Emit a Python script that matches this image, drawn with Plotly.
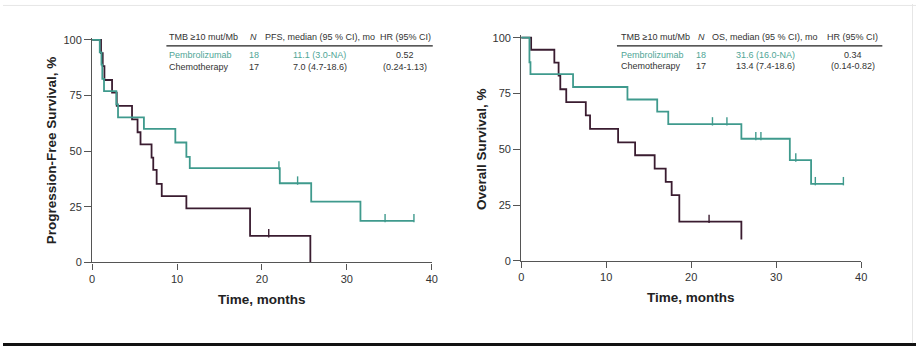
import plotly.graph_objects as go

# ---------------- data ----------------
pfs_pembro_t = [0, 0.9, 1.1, 1.2, 1.4, 2.85, 3.05, 6.1, 9.8, 11.1, 11.5, 22.1, 25.8, 31.6, 37.9]
pfs_pembro_s = [100, 94.4, 88.9, 82.5, 77.0, 71.0, 65.2, 60.0, 53.9, 47.4, 42.4, 35.6, 27.3, 18.7, 18.7]
pfs_pembro_cens = [22.0, 24.2, 34.5, 37.9]

pfs_chemo_t = [0, 1.05, 1.25, 1.45, 2.35, 2.9, 4.7, 5.35, 5.7, 7.0, 7.2, 7.6, 8.2, 11.1, 18.6, 25.7]
pfs_chemo_s = [100, 94.1, 88.2, 82.0, 76.3, 70.4, 64.3, 58.5, 53.1, 47.1, 41.6, 35.3, 29.8, 24.3, 11.9, 0]
pfs_chemo_cens = [20.8]

os_pembro_t = [0, 0.97, 1.09, 6.1, 12.5, 16.0, 17.3, 25.9, 31.6, 34.1, 37.9]
os_pembro_s = [100, 89.0, 83.7, 77.9, 72.3, 66.9, 61.3, 54.7, 45.1, 34.5, 34.5]
os_pembro_cens = [22.5, 24.2, 27.6, 28.2, 32.3, 34.6, 37.9]

os_chemo_t = [0, 1.17, 3.9, 4.4, 4.6, 5.3, 7.6, 8.1, 11.4, 13.4, 15.7, 17.0, 17.7, 18.6, 25.9]
os_chemo_s = [100, 94.6, 88.8, 83.0, 76.9, 71.1, 65.2, 59.1, 53.1, 47.3, 41.3, 35.4, 29.4, 17.6, 9.6]
os_chemo_cens = [22.1]

x_ticks = [0, 10, 20, 30, 40]
y_ticks = [0, 25, 50, 75, 100]

pfs_table = [["Pembrolizumab", "18", "11.1 (3.0-NA)", "0.52"],
             ["Chemotherapy", "17", "7.0 (4.7-18.6)", "(0.24-1.13)"]]
os_table = [["Pembrolizumab", "18", "31.6 (16.0-NA)", "0.34"],
            ["Chemotherapy", "17", "13.4 (7.4-18.6)", "(0.14-0.82)"]]
pfs_header = ["TMB \u226510 mut/Mb", "<i>N</i>", "PFS, median (95 % CI), mo", "HR (95% CI)"]
os_header = ["TMB \u226510 mut/Mb", "<i>N</i>", "OS, median (95 % CI), mo", "HR (95% CI)"]

# ---------------- style ----------------
W, H = 922, 352
TEAL = "#3f9a8d"
TEAL_TXT = "#4fa596"
DARK = "#3a1c30"
TXT = "#333333"
AX = "#555555"
FONT = "Liberation Sans, Arial, sans-serif"
TICK_OFF = 1.2  # censor tick lift (in %)
TBL_SIZE = 9


def step_val(ts, ss, c):
    v = ss[0]
    for t, s in zip(ts, ss):
        if t <= c:
            v = s
    return v


fig = go.Figure()


def add_curve(ts, ss, cens, color, xa, ya):
    fig.add_trace(go.Scatter(x=ts, y=ss, mode="lines", line=dict(shape="hv", color=color, width=1.8),
                             xaxis=xa, yaxis=ya, showlegend=False, hoverinfo="skip"))
    cy = [step_val(ts, ss, c) + TICK_OFF for c in cens]
    fig.add_trace(go.Scatter(x=cens, y=cy, mode="markers",
                             marker=dict(symbol="line-ns", size=6, line=dict(width=1.4, color=color)),
                             xaxis=xa, yaxis=ya, showlegend=False, hoverinfo="skip", cliponaxis=False))


add_curve(pfs_chemo_t, pfs_chemo_s, pfs_chemo_cens, DARK, "x", "y")
add_curve(pfs_pembro_t, pfs_pembro_s, pfs_pembro_cens, TEAL, "x", "y")
add_curve(os_chemo_t, os_chemo_s, os_chemo_cens, DARK, "x2", "y2")
add_curve(os_pembro_t, os_pembro_s, os_pembro_cens, TEAL, "x2", "y2")

xcommon = dict(range=[0, 40], tickvals=x_ticks, showline=True, linecolor=AX, linewidth=1.2,
               ticks="outside", ticklen=6, tickwidth=1.2, tickcolor=AX, showgrid=False, zeroline=False,
               tickfont=dict(family=FONT, size=11, color=TXT), fixedrange=True)
ycommon = dict(range=[0, 101], tickvals=y_ticks, showline=True, linecolor=AX, linewidth=1.2,
               ticks="outside", ticklen=7, tickwidth=1.2, tickcolor=AX, showgrid=False, zeroline=False,
               tickfont=dict(family=FONT, size=11, color=TXT), fixedrange=True)

fig.update_layout(
    width=W, height=H, margin=dict(l=0, r=0, t=0, b=0),
    paper_bgcolor="white", plot_bgcolor="white",
    xaxis=dict(domain=[90 / W, 433 / W], anchor="y", **xcommon),
    yaxis=dict(domain=[1 - 266 / H, 1 - 34.7 / H], anchor="x", **ycommon),
    xaxis2=dict(domain=[523.3 / W, 866.7 / W], anchor="y2", **xcommon),
    yaxis2=dict(domain=[1 - 264.3 / H, 1 - 32.4 / H], anchor="x2", **ycommon),
    font=dict(family=FONT, color=TXT),
)

ann = []


def px_ann(x, y, text, size=TBL_SIZE, color=TXT, xanchor="center", bold=False, angle=0):
    ann.append(dict(x=x / W, y=1 - y / H, xref="paper", yref="paper", text=("<b>%s</b>" % text) if bold else text,
                    showarrow=False, xanchor=xanchor, yanchor="middle", textangle=angle,
                    font=dict(family=FONT, size=size, color=color)))


# axis titles
px_ann(49, 151, "Progression-Free Survival, %", size=13.5, color="#222", bold=True, angle=-90)
px_ann(262, 304, "Time, months", size=13.5, color="#222", bold=True)
px_ann(483, 149, "Overall Survival, %", size=13.5, color="#222", bold=True, angle=-90)
px_ann(695, 302, "Time, months", size=13.5, color="#222", bold=True)


def table(header, rows, x_first, x_n, x_med, x_hr, y_head, y_rows, line_x0, line_x1, line_y):
    px_ann(x_first, y_head, header[0], xanchor="left")
    px_ann(x_n, y_head, header[1])
    px_ann(x_med, y_head, header[2])
    px_ann(x_hr, y_head, header[3])
    for r, yy in zip(rows, y_rows):
        col = TEAL_TXT if r[0].startswith("Pembro") else TXT
        px_ann(x_first, yy, r[0], color=col, xanchor="left")
        px_ann(x_n, yy, r[1], color=col)
        px_ann(x_med, yy, r[2], color=col)
        px_ann(x_hr, yy, r[3], color=TXT)
    fig.add_shape(type="line", xref="paper", yref="paper", x0=line_x0 / W, x1=line_x1 / W,
                  y0=1 - line_y / H, y1=1 - line_y / H, line=dict(color="#222", width=1.2))


table(pfs_header, pfs_table, 166, 253, 320, 406, 34, [52, 65], 165, 434, 43)
table(os_header, os_table, 622, 705, 770, 858, 34, [52, 64], 620, 888, 43)

fig.update_layout(annotations=ann)

# frame lines of the picture
fig.add_shape(type="rect", xref="paper", yref="paper", x0=0, x1=1, y0=0, y1=3 / H,
              line=dict(width=0), fillcolor="#111")
fig.add_shape(type="line", xref="paper", yref="paper", x0=0, x1=1, y0=1 - 1.5 / H, y1=1 - 1.5 / H,
              line=dict(color="#e6e6e6", width=1))
fig.add_shape(type="line", xref="paper", yref="paper", x0=918.5 / W, x1=918.5 / W, y0=3 / H, y1=1,
              line=dict(color="#e6e6e6", width=1))

fig.write_html("out.html")
